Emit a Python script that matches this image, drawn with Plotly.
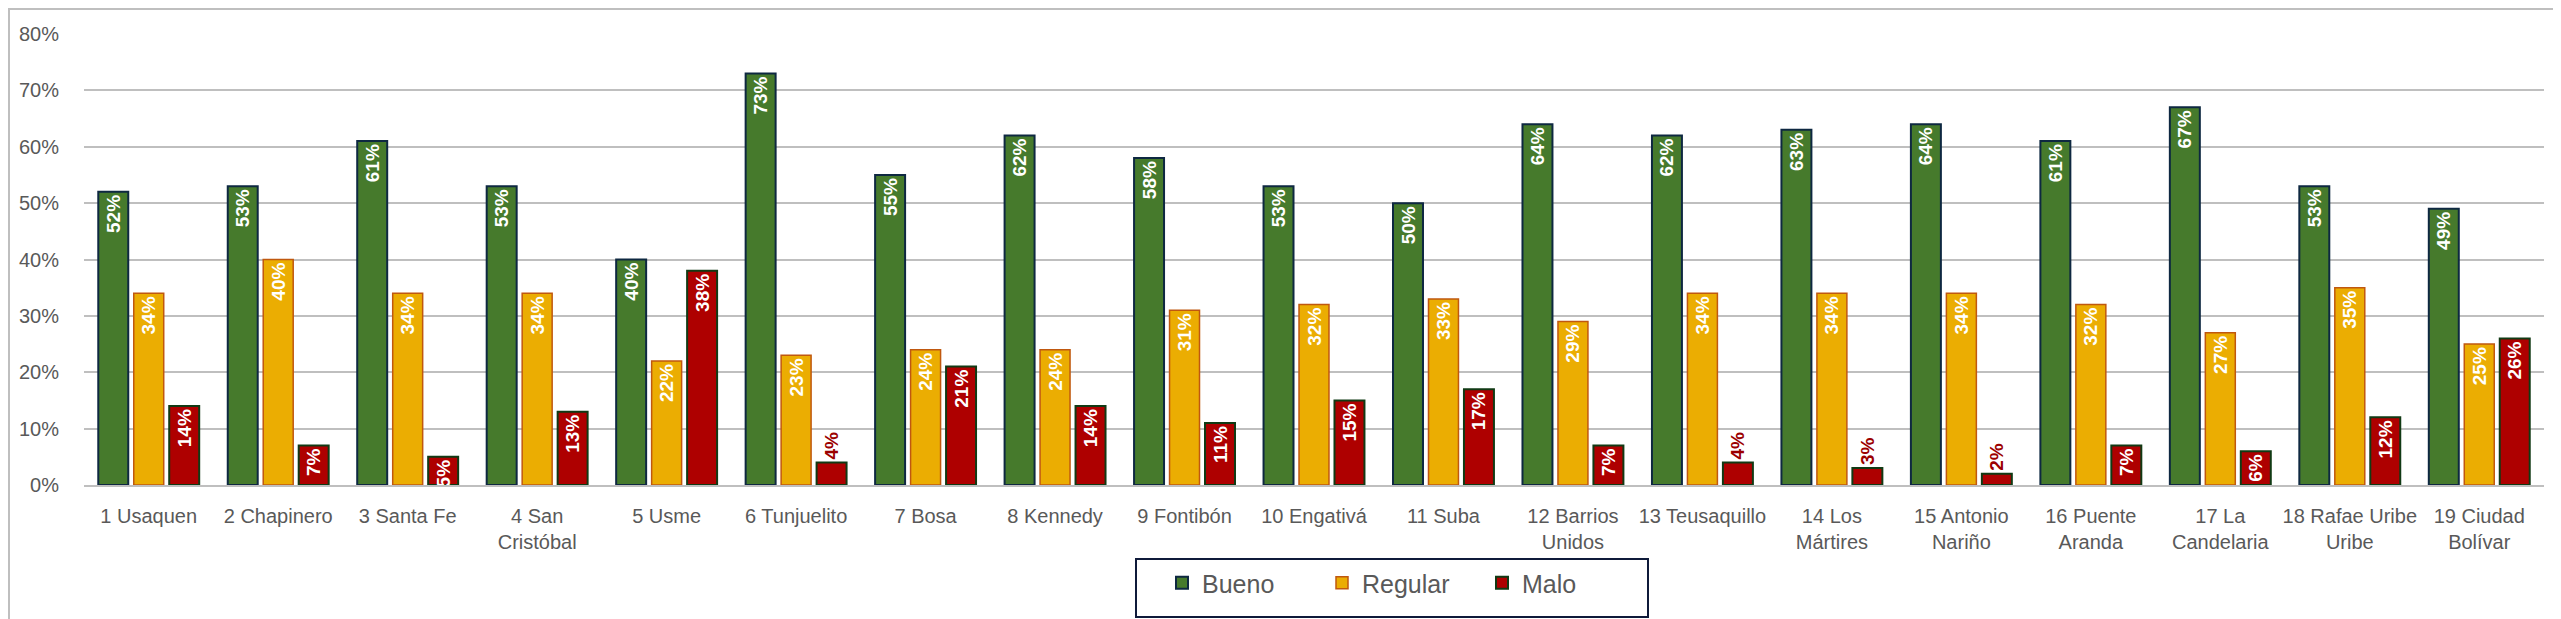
import plotly.graph_objects as go

categories = ["1 Usaquen", "2 Chapinero", "3 Santa Fe", "4 San<br>Cristóbal", "5 Usme",
              "6 Tunjuelito", "7 Bosa", "8 Kennedy", "9 Fontibón", "10 Engativá",
              "11 Suba", "12 Barrios<br>Unidos", "13 Teusaquillo", "14 Los<br>Mártires",
              "15 Antonio<br>Nariño", "16 Puente<br>Aranda", "17 La<br>Candelaria",
              "18 Rafae Uribe<br>Uribe", "19 Ciudad<br>Bolívar"]
bueno = [52, 53, 61, 53, 40, 73, 55, 62, 58, 53, 50, 64, 62, 63, 64, 61, 67, 53, 49]
regular = [34, 40, 34, 34, 22, 23, 24, 24, 31, 32, 33, 29, 34, 34, 34, 32, 27, 35, 25]
malo = [14, 7, 5, 13, 38, 4, 21, 14, 11, 15, 17, 7, 4, 3, 2, 7, 6, 12, 26]

W, H = 2561, 619
ML, MR, MT, MB = 76, 25, 26, 142
PW, PH = W - ML - MR, H - MT - MB

series = [
    ("Bueno", bueno, "#467A2C", "#0E2841", 2),
    ("Regular", regular, "#EBAD02", "#C0580F", 1.5),
    ("Malo", malo, "#AE0000", "#113A14", 2),
]

fig = go.Figure()
for name, vals, fill, line, lw in series:
    v = [x / 100 for x in vals]
    fig.add_trace(go.Bar(
        name=name, x=categories, y=v,
        marker=dict(color=fill, line=dict(color=line, width=lw)),
        text=[f"{x}%" for x in vals],
        textposition=["inside" if x >= 5 else "outside" for x in vals],
        insidetextanchor="end",
        textangle=-90,
        insidetextfont=dict(family="Liberation Sans, Arial, sans-serif", size=19, color="white", weight="bold"),
        outsidetextfont=dict(family="Liberation Sans, Arial, sans-serif", size=19, color="#9B0000", weight="bold"),
        cliponaxis=False,
        hoverinfo="skip",
    ))

def px_x(p):
    return (p - ML) / PW

def px_y(p):
    return (H - MB - p) / PH

fig.update_layout(
    width=W, height=H,
    margin=dict(l=ML, r=MR, t=MT, b=MB),
    paper_bgcolor="white", plot_bgcolor="white",
    barmode="group", bargap=0.178, bargroupgap=0.155,
    uniformtext=dict(minsize=19, mode="show"),
    font=dict(family="Liberation Sans, Arial, sans-serif", color="#595959"),
    showlegend=True,
    legend=dict(
        orientation="h", x=px_x(1394), xanchor="center", y=px_y(552), yanchor="top",
        font=dict(size=25, color="#595959"),
        bgcolor="rgba(0,0,0,0)", borderwidth=0, entrywidth=115,
        traceorder="normal",
    ),
    shapes=[
        dict(type="rect", xref="paper", yref="paper",
             x0=px_x(1), x1=px_x(W - 2), y0=px_y(H - 2), y1=px_y(1),
             line=dict(color="#BFBFBF", width=2), fillcolor="rgba(0,0,0,0)", layer="below"),
        dict(type="rect", xref="paper", yref="paper",
             x0=px_x(1128), x1=px_x(1640), y0=px_y(609), y1=px_y(551),
             line=dict(color="#0F1A3A", width=2), fillcolor="rgba(0,0,0,0)"),
    ],
)
fig.update_xaxes(
    tickfont=dict(size=20, color="#595959"),
    showline=True, linecolor="#BFBFBF", linewidth=2,
    ticks="outside", ticklen=12, tickcolor="rgba(0,0,0,0)",
    showgrid=False,
)
fig.update_yaxes(
    range=[0, 0.8], dtick=0.1, tickformat=".0%",
    tickfont=dict(size=20, color="#595959"),
    showgrid=True, gridcolor="#BFBFBF", gridwidth=2,
    zeroline=False, showline=False,
    ticks="outside", ticklen=20, tickcolor="rgba(0,0,0,0)",
)

fig.write_html("out.html")
